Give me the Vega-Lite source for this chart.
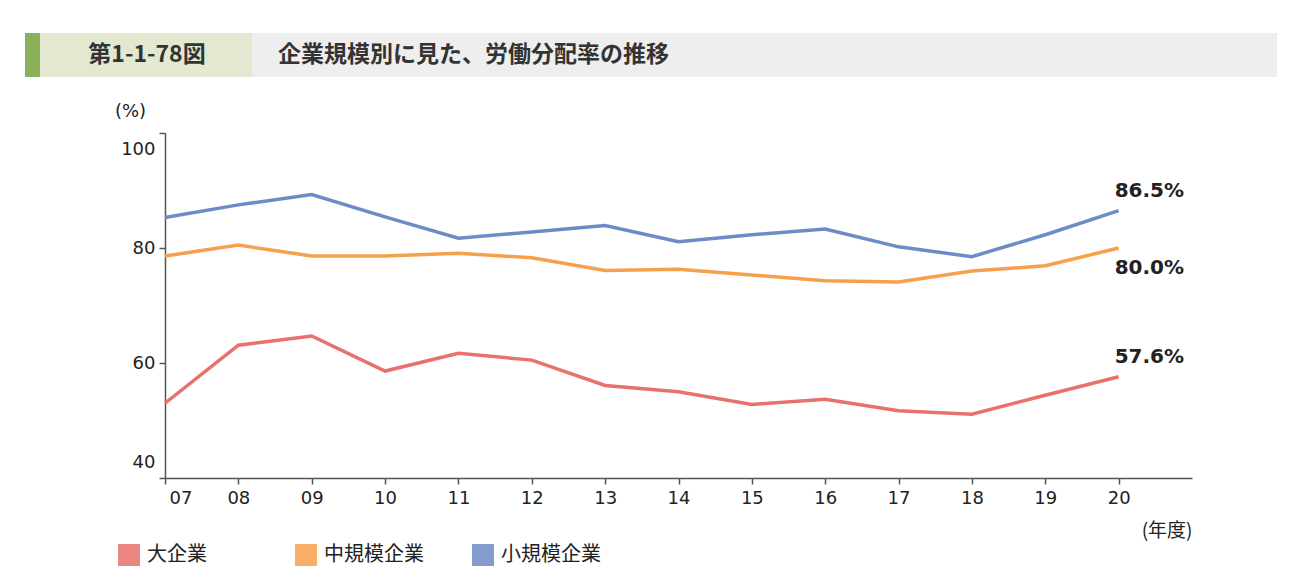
{
  "$schema": "https://vega.github.io/schema/vega-lite/v6.json",
  "padding": {"left": 25, "top": 33, "right": 25, "bottom": 5},
  "background": "white",
  "bounds": "flush",
  "spacing": 56,
  "config": {"view": {"stroke": null}, "font": "DejaVu Sans"},
  "datasets": {
    "header": [{"num": "第1-1-78図", "title": "企業規模別に見た、労働分配率の推移"}],
    "rates": [
      {"year": 2007, "series": "大企業", "value": 53.0},
      {"year": 2008, "series": "大企業", "value": 63.1},
      {"year": 2009, "series": "大企業", "value": 64.7},
      {"year": 2010, "series": "大企業", "value": 58.6},
      {"year": 2011, "series": "大企業", "value": 61.7},
      {"year": 2012, "series": "大企業", "value": 60.5},
      {"year": 2013, "series": "大企業", "value": 56.1},
      {"year": 2014, "series": "大企業", "value": 55.0},
      {"year": 2015, "series": "大企業", "value": 52.8},
      {"year": 2016, "series": "大企業", "value": 53.7},
      {"year": 2017, "series": "大企業", "value": 51.7},
      {"year": 2018, "series": "大企業", "value": 51.1},
      {"year": 2019, "series": "大企業", "value": 54.4},
      {"year": 2020, "series": "大企業", "value": 57.6},
      {"year": 2007, "series": "中規模企業", "value": 78.6},
      {"year": 2008, "series": "中規模企業", "value": 80.5},
      {"year": 2009, "series": "中規模企業", "value": 78.6},
      {"year": 2010, "series": "中規模企業", "value": 78.6},
      {"year": 2011, "series": "中規模企業", "value": 79.1},
      {"year": 2012, "series": "中規模企業", "value": 78.3},
      {"year": 2013, "series": "中規模企業", "value": 76.1},
      {"year": 2014, "series": "中規模企業", "value": 76.3},
      {"year": 2015, "series": "中規模企業", "value": 75.3},
      {"year": 2016, "series": "中規模企業", "value": 74.3},
      {"year": 2017, "series": "中規模企業", "value": 74.1},
      {"year": 2018, "series": "中規模企業", "value": 76.0},
      {"year": 2019, "series": "中規模企業", "value": 76.9},
      {"year": 2020, "series": "中規模企業", "value": 80.0},
      {"year": 2007, "series": "小規模企業", "value": 85.3},
      {"year": 2008, "series": "小規模企業", "value": 87.5},
      {"year": 2009, "series": "小規模企業", "value": 89.3},
      {"year": 2010, "series": "小規模企業", "value": 85.4},
      {"year": 2011, "series": "小規模企業", "value": 81.7},
      {"year": 2012, "series": "小規模企業", "value": 82.8},
      {"year": 2013, "series": "小規模企業", "value": 83.9},
      {"year": 2014, "series": "小規模企業", "value": 81.1},
      {"year": 2015, "series": "小規模企業", "value": 82.3},
      {"year": 2016, "series": "小規模企業", "value": 83.3},
      {"year": 2017, "series": "小規模企業", "value": 80.2},
      {"year": 2018, "series": "小規模企業", "value": 78.5},
      {"year": 2019, "series": "小規模企業", "value": 82.3},
      {"year": 2020, "series": "小規模企業", "value": 86.5}
    ]
  },
  "vconcat": [
    {
      "width": 1112,
      "height": 44,
      "data": {"name": "header"},
      "layer": [
        {
          "mark": {"type": "rect", "color": "#eeeeee"},
          "encoding": {
            "x": {"datum": 227, "type": "quantitative", "scale": {"domain": [140, 1252], "nice": false, "zero": false}, "axis": null},
            "x2": {"datum": 1252}
          }
        },
        {
          "mark": {"type": "rect", "color": "#e2e9d0"},
          "encoding": {
            "x": {"datum": 15, "type": "quantitative", "scale": {"domain": [140, 1252], "nice": false, "zero": false}, "axis": null},
            "x2": {"datum": 227}
          }
        },
        {
          "mark": {"type": "rect", "color": "#8cb05a"},
          "encoding": {
            "x": {"datum": 0, "type": "quantitative", "scale": {"domain": [140, 1252], "nice": false, "zero": false}, "axis": null},
            "x2": {"datum": 15}
          }
        },
        {
          "mark": {"type": "text", "font": "Noto Sans CJK JP", "fontSize": 23, "fontWeight": "bold", "color": "#333333", "align": "center", "baseline": "middle"},
          "encoding": {
            "x": {"datum": 122, "type": "quantitative", "scale": {"domain": [140, 1252], "nice": false, "zero": false}, "axis": null},
            "text": {"field": "num"}
          }
        },
        {
          "mark": {"type": "text", "font": "Noto Sans CJK JP", "fontSize": 23, "fontWeight": "bold", "color": "#333333", "align": "left", "baseline": "middle"},
          "encoding": {
            "x": {"datum": 253, "type": "quantitative", "scale": {"domain": [140, 1252], "nice": false, "zero": false}, "axis": null},
            "text": {"field": "title"}
          }
        }
      ]
    },
    {
      "width": 1027,
      "height": 345,
      "data": {"name": "rates"},
      "encoding": {
        "x": {
          "field": "year",
          "type": "quantitative",
          "scale": {"domain": [2007, 2021], "nice": false, "zero": false},
          "axis": {
            "values": [2007, 2008, 2009, 2010, 2011, 2012, 2013, 2014, 2015, 2016, 2017, 2018, 2019, 2020],
            "format": "d",
            "labelExpr": "substring(datum.label, 2)",
            "labelOverlap": false,
            "grid": false,
            "domainColor": "#555555",
            "domainWidth": 1.5,
            "tickColor": "#555555",
            "tickWidth": 1.5,
            "tickSize": 6,
            "labelFont": "DejaVu Sans",
            "labelFontSize": 18,
            "labelColor": "#222222",
            "labelPadding": 5,
            "labelFlush": true,
            "labelFlushOffset": -4,
            "title": "(年度)",
            "titleFont": "Noto Sans CJK JP",
            "titleFontSize": 19,
            "titleFontWeight": "normal",
            "titleColor": "#222222",
            "titleAnchor": "end",
            "titleAlign": "right",
            "titleBaseline": "middle",
            "titleX": 1027,
            "titleY": 52
          }
        },
        "y": {
          "field": "value",
          "type": "quantitative",
          "scale": {"domain": [40, 100], "nice": false, "zero": false},
          "axis": {
            "values": [40, 60, 80, 100],
            "grid": false,
            "domainColor": "#555555",
            "domainWidth": 1.5,
            "tickColor": "#555555",
            "tickWidth": 1.5,
            "tickSize": 6,
            "labelFont": "DejaVu Sans",
            "labelFontSize": 18,
            "labelColor": "#222222",
            "labelPadding": 4,
            "labelFlush": true,
            "labelFlushOffset": -7,
            "title": "(%)",
            "titleFont": "DejaVu Sans",
            "titleFontSize": 18,
            "titleFontWeight": "normal",
            "titleColor": "#222222",
            "titleAngle": 0,
            "titleAlign": "center",
            "titleBaseline": "middle",
            "titleX": -35,
            "titleY": -22
          }
        },
        "color": {
          "field": "series",
          "type": "nominal",
          "scale": {"domain": ["大企業", "中規模企業", "小規模企業"], "range": ["#e8716b", "#f6a04c", "#6d8bc6"]},
          "legend": {
            "orient": "none",
            "legendX": -47,
            "legendY": 511,
            "direction": "horizontal",
            "columns": 3,
            "gridAlign": "all",
            "columnPadding": 48,
            "title": null,
            "symbolType": "square",
            "symbolSize": 484,
            "symbolStrokeWidth": 0,
            "labelFont": "Noto Sans CJK JP",
            "labelFontSize": 20,
            "labelColor": "#222222",
            "labelOffset": 7,
            "encode": {"symbols": {"update": {"fill": {"scale": "color", "field": "value"}, "fillOpacity": {"value": 0.85}, "strokeWidth": {"value": 0}}}}
          }
        }
      },
      "layer": [
        {"mark": {"type": "line", "strokeWidth": 3.5}},
        {
          "transform": [
            {"filter": "datum.year == 2020 && datum.series != '中規模企業'"},
            {"calculate": "format(datum.value, '.1f') + '%'", "as": "label"}
          ],
          "mark": {"type": "text", "align": "left", "baseline": "middle", "dx": -4, "dy": -20, "font": "DejaVu Sans", "fontSize": 20, "fontWeight": "bold"},
          "encoding": {"text": {"field": "label"}, "color": {"value": "#222222"}}
        },
        {
          "transform": [
            {"filter": "datum.year == 2020 && datum.series == '中規模企業'"},
            {"calculate": "format(datum.value, '.1f') + '%'", "as": "label"}
          ],
          "mark": {"type": "text", "align": "left", "baseline": "middle", "dx": -4, "dy": 20, "font": "DejaVu Sans", "fontSize": 20, "fontWeight": "bold"},
          "encoding": {"text": {"field": "label"}, "color": {"value": "#222222"}}
        }
      ]
    }
  ]
}
